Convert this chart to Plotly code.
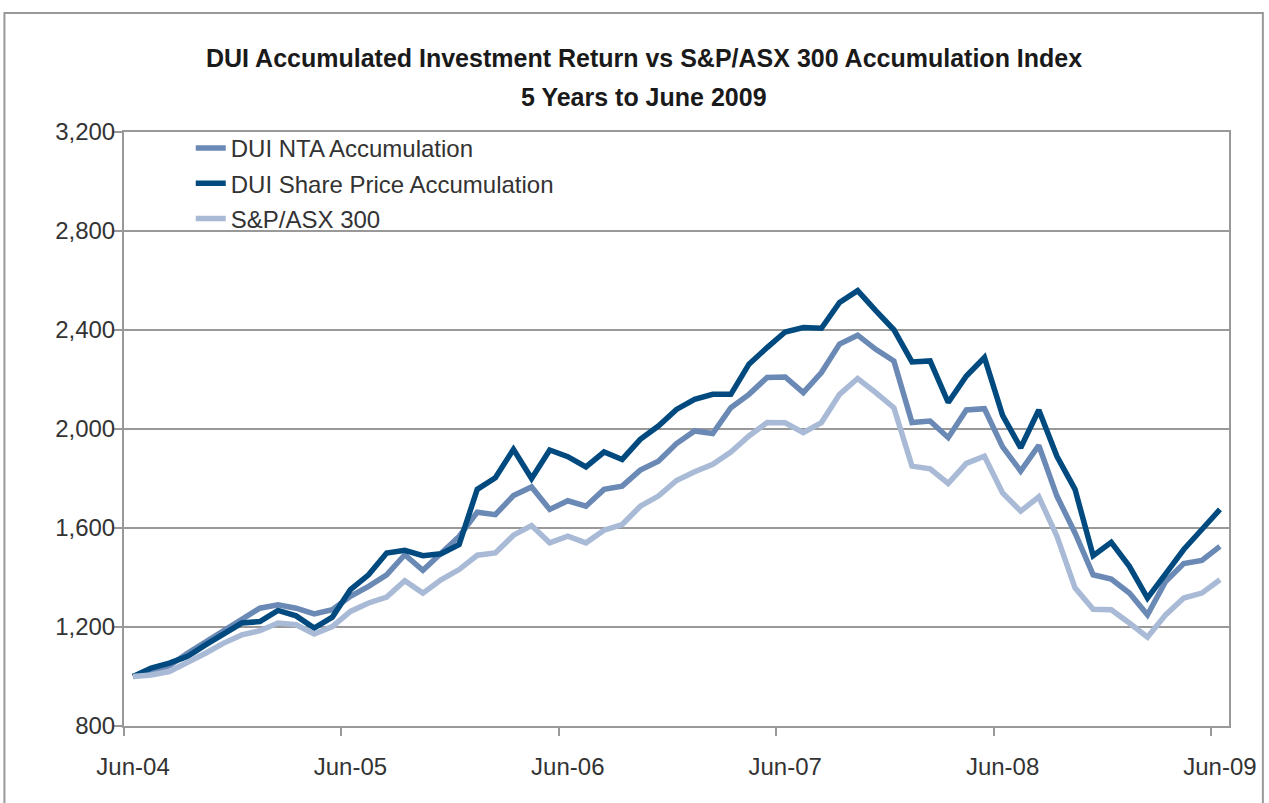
import plotly.graph_objects as go

# ---- data (monthly, Jun-04 .. Jun-09, base 1000) ----
month_names = ["Jan", "Feb", "Mar", "Apr", "May", "Jun", "Jul", "Aug", "Sep", "Oct", "Nov", "Dec"]
months = []
for k in range(61):
    m = (5 + k) % 12
    y = 4 + (5 + k) // 12
    months.append(f"{month_names[m]}-{y:02d}")

tick_labels = ["Jun-04", "Jun-05", "Jun-06", "Jun-07", "Jun-08", "Jun-09"]

nta = [1000, 1020, 1043, 1094, 1141, 1186, 1229, 1276, 1290, 1276, 1253, 1270,
       1324, 1364, 1411, 1492, 1429, 1499, 1566, 1664, 1654, 1731, 1766, 1675,
       1710, 1688, 1756, 1769, 1834, 1870, 1941, 1992, 1982, 2086, 2140, 2208,
       2210, 2147, 2228, 2343, 2379, 2322, 2275, 2026, 2032, 1965, 2077, 2082,
       1928, 1830, 1934, 1729, 1580, 1411, 1394, 1337, 1249, 1384, 1456, 1469,
       1526]

share = [1000, 1034, 1054, 1081, 1128, 1172, 1216, 1222, 1267, 1245, 1196, 1240,
         1351, 1411, 1499, 1510, 1488, 1496, 1533, 1756, 1803, 1918, 1800, 1915,
         1888, 1847, 1907, 1877, 1958, 2012, 2079, 2120, 2140, 2140, 2262, 2329,
         2392, 2410, 2407, 2511, 2559, 2478, 2401, 2271, 2275, 2107, 2214, 2289,
         2055, 1924, 2077, 1890, 1756, 1488, 1542, 1445, 1317, 1415, 1513, 1594,
         1675]

asx300 = [1000, 1006, 1020, 1054, 1094, 1135, 1168, 1185, 1216, 1209, 1172, 1202,
          1263, 1297, 1321, 1387, 1337, 1391, 1432, 1490, 1499, 1571, 1610, 1540,
          1567, 1540, 1591, 1614, 1688, 1729, 1792, 1827, 1857, 1907, 1972, 2026,
          2025, 1985, 2026, 2140, 2204, 2147, 2086, 1850, 1839, 1780, 1861, 1890,
          1742, 1668, 1726, 1567, 1358, 1272, 1270, 1216, 1159, 1249, 1317, 1337,
          1391]

series_names = ["DUI NTA Accumulation", "DUI Share Price Accumulation", "S&P/ASX 300"]
series_colors = ["#6a89b5", "#004a7f", "#a9bad6"]

x_idx = list(range(len(months)))
tick_pos = [months.index(t) for t in tick_labels]
boundary_pos = [p - 0.5 for p in tick_pos]

W, H = 1269, 803
L, R, T, B = 124, 36, 132, 77
pw, ph = W - L - R, H - T - B

def px_x(px):
    return (px - L) / pw

def px_y(py):
    return (H - B - py) / ph

fig = go.Figure()
for name, vals, col in zip(series_names, [nta, share, asx300], series_colors):
    fig.add_trace(go.Scatter(
        x=x_idx, y=vals, mode="lines", name=name, legendgroup=name,
        line=dict(color=col, width=5.5), customdata=months,
        hovertemplate="%{customdata}: %{y:,}<extra>" + name + "</extra>",
    ))

font_family = "Liberation Sans, Arial, sans-serif"

fig.update_layout(
    width=W, height=H,
    margin=dict(l=L, r=R, t=T, b=B),
    paper_bgcolor="white", plot_bgcolor="white",
    font=dict(family=font_family, size=24, color="#333333"),
    showlegend=True,
    legend=dict(
        x=px_x(191), y=px_y(126), xanchor="left", yanchor="top",
        bgcolor="rgba(0,0,0,0)", borderwidth=0,
        font=dict(size=24, color="#333333"),
        tracegroupgap=1, itemwidth=30,
    ),
    xaxis=dict(
        range=[-0.5, 60.5], tickvals=tick_pos, ticktext=tick_labels,
        ticks="", showgrid=False, zeroline=False,
        showline=True, linecolor="#999999", linewidth=2, mirror=True,
        ticklabelstandoff=18,
        minor=dict(tickvals=boundary_pos, ticks="outside", ticklen=8,
                   tickcolor="#999999", tickwidth=2, showgrid=False),
        tickfont=dict(size=24, color="#333333"),
    ),
    yaxis=dict(
        range=[800, 3200], tick0=800, dtick=400, tickformat=",",
        showgrid=True, gridcolor="#999999", gridwidth=2,
        zeroline=False, showline=True, linecolor="#999999", linewidth=2, mirror=True,
        ticks="outside", ticklen=8, tickcolor="#999999", tickwidth=2,
        ticklabelstandoff=-6,
        tickfont=dict(size=24, color="#333333"),
    ),
    shapes=[dict(
        type="rect", xref="paper", yref="paper",
        x0=px_x(4), x1=px_x(1267), y0=px_y(812), y1=px_y(13),
        line=dict(color="#999999", width=2), fillcolor="rgba(0,0,0,0)", layer="below",
    )],
    annotations=[
        dict(text="<b>DUI Accumulated Investment Return vs S&P/ASX 300 Accumulation Index</b>",
             xref="paper", yref="paper", x=px_x(646), y=px_y(58),
             xanchor="center", yanchor="middle", showarrow=False,
             font=dict(size=25, color="#1a1a1a", family=font_family)),
        dict(text="<b>5 Years to June 2009</b>",
             xref="paper", yref="paper", x=px_x(646), y=px_y(97),
             xanchor="center", yanchor="middle", showarrow=False,
             font=dict(size=25, color="#1a1a1a", family=font_family)),
    ],
)

fig.write_html("out.html", config={"displayModeBar": False},
               post_script="document.body.style.margin='0';")
